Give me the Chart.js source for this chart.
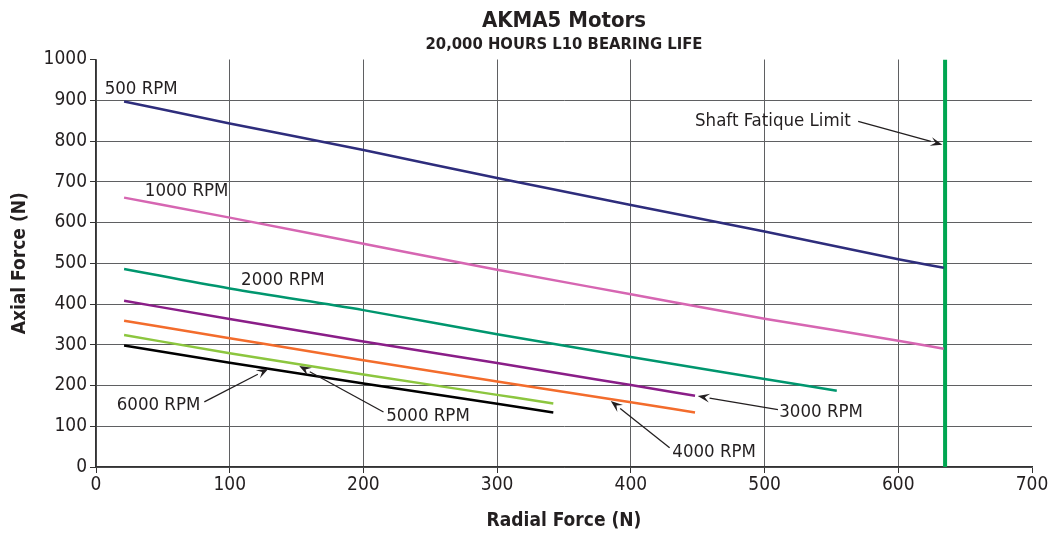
<!DOCTYPE html>
<html>
<head>
<meta charset="utf-8">
<script src="https://cdn.jsdelivr.net/npm/chart.js@4"></script>
<style>
html,body{margin:0;padding:0;background:#fff;}
#wrap{width:1048px;height:536px;}
</style>
</head>
<body>
<div id="wrap"><canvas id="c" width="1048" height="536"></canvas></div>
<script>
// ---- data ----
const xTicks = [0, 100, 200, 300, 400, 500, 600, 700];
const yTicks = [0, 100, 200, 300, 400, 500, 600, 700, 800, 900, 1000];

const radial500  = [21, 100, 200, 300, 400, 500, 600, 634];
const axial500   = [897, 843, 778, 709, 643, 578, 510, 489];
const radial1000 = [21, 100, 200, 300, 400, 500, 600, 634];
const axial1000  = [661, 612, 548, 484, 424, 364, 310, 290];
const radial2000 = [21, 100, 200, 300, 400, 500, 554];
const axial2000  = [486, 438, 385, 326, 270, 216, 187];
const radial3000 = [21, 100, 200, 300, 400, 448];
const axial3000  = [408, 363, 308, 255, 201, 175];
const radial4000 = [21, 100, 200, 300, 400, 448];
const axial4000  = [359, 316, 262, 210, 159, 134];
const radial5000 = [21, 100, 200, 300, 342];
const axial5000  = [324, 279, 227, 177, 156];
const radial6000 = [21, 100, 200, 300, 342];
const axial6000  = [298, 256, 205, 155, 134];
const shaftRadial = [635, 635];
const shaftAxial  = [0, 1000];

const seriesNames = ['500 RPM','1000 RPM','2000 RPM','3000 RPM','4000 RPM','5000 RPM','6000 RPM','Shaft Fatique Limit'];

// ---- styling ----
const FONT = "'Liberation Sans Narrow', 'DejaVu Sans Condensed', 'Liberation Sans', sans-serif";
const TEXT = '#231f20';
const colors = ['#2e2d7c', '#d666b2', '#00966e', '#8a1e88', '#f36c2c', '#8cc63f', '#000000', '#00a651'];

function pts(xs, ys) { return xs.map((x, i) => ({x: x, y: ys[i]})); }
const seriesData = [
  pts(radial500, axial500), pts(radial1000, axial1000), pts(radial2000, axial2000),
  pts(radial3000, axial3000), pts(radial4000, axial4000), pts(radial5000, axial5000),
  pts(radial6000, axial6000), pts(shaftRadial, shaftAxial)
];

const datasets = seriesData.map((d, i) => ({
  label: seriesNames[i],
  data: d,
  borderColor: colors[i],
  backgroundColor: colors[i],
  borderWidth: i === 7 ? 4 : 2.5,
  pointRadius: 0,
  tension: i === 7 ? 0 : 0.3,
  cubicInterpolationMode: i === 7 ? 'default' : 'monotone',
  fill: false
}));

// annotation labels (data coordinates), with optional arrows
const notes = [
  {text: '500 RPM',  x: 6.5,  y: 926, align: 'left'},
  {text: '1000 RPM', x: 36.5, y: 676, align: 'left'},
  {text: '2000 RPM', x: 108.5, y: 459, align: 'left'},
  {text: '3000 RPM', x: 511, y: 135, align: 'left', from: [510, 141], to: [450, 174]},
  {text: '4000 RPM', x: 431, y: 37,  align: 'left', from: [429, 47],  to: [385, 162]},
  {text: '5000 RPM', x: 217, y: 125, align: 'left', from: [215, 135], to: [152, 248]},
  {text: '6000 RPM', x: 78,  y: 152, align: 'right', from: [81, 160], to: [129, 241]},
  {text: 'Shaft Fatique Limit', x: 448, y: 848, align: 'left', from: [570, 848], to: [633, 791]}
];

const notePlugin = {
  id: 'notes',
  afterDatasetsDraw(chart) {
    const ctx = chart.ctx, xs = chart.scales.x, ys = chart.scales.y;
    ctx.save();
    ctx.font = '18.5px ' + FONT;
    ctx.fillStyle = TEXT;
    ctx.strokeStyle = TEXT;
    ctx.textBaseline = 'middle';
    notes.forEach(n => {
      ctx.textAlign = n.align;
      ctx.fillText(n.text, xs.getPixelForValue(n.x), ys.getPixelForValue(n.y));
      if (n.from) {
        const x1 = xs.getPixelForValue(n.from[0]), y1 = ys.getPixelForValue(n.from[1]);
        const x2 = xs.getPixelForValue(n.to[0]),   y2 = ys.getPixelForValue(n.to[1]);
        const ang = Math.atan2(y2 - y1, x2 - x1);
        const L = 12, W = 4.5;
        const bx = x2 - L * Math.cos(ang), by = y2 - L * Math.sin(ang);
        ctx.lineWidth = 1.3;
        ctx.beginPath(); ctx.moveTo(x1, y1); ctx.lineTo(bx, by); ctx.stroke();
        ctx.beginPath();
        ctx.moveTo(x2, y2);
        ctx.lineTo(bx + W * Math.sin(ang), by - W * Math.cos(ang));
        ctx.lineTo(x2 - 0.6 * L * Math.cos(ang), y2 - 0.6 * L * Math.sin(ang));
        ctx.lineTo(bx - W * Math.sin(ang), by + W * Math.cos(ang));
        ctx.closePath(); ctx.fill();
      }
    });
    ctx.restore();
  }
};

new Chart(document.getElementById('c'), {
  type: 'line',
  data: {datasets: datasets},
  plugins: [notePlugin],
  options: {
    responsive: false,
    animation: false,
    layout: {padding: {top: 0, left: 0, right: 16, bottom: 0}},
    plugins: {
      legend: {display: false},
      tooltip: {enabled: false},
      title: {
        display: true, text: 'AKMA5 Motors', fullSize: false,
        color: TEXT, font: {family: FONT, size: 22, weight: 'bold', lineHeight: 1},
        padding: {top: 10, bottom: 4}
      },
      subtitle: {
        display: true, text: '20,000 HOURS L10 BEARING LIFE', fullSize: false,
        color: TEXT, font: {family: FONT, size: 16.5, weight: 'bold', lineHeight: 1},
        padding: {top: 0, bottom: 7}
      }
    },
    scales: {
      x: {
        type: 'linear', min: 0, max: 700,
        afterBuildTicks(s) { s.ticks = xTicks.map(v => ({value: v})); },
        afterFit(s) { s.height = 69; s.paddingRight = 0; s.paddingLeft = 0; },
        ticks: {color: TEXT, font: {family: FONT, size: 19}, padding: 1, maxRotation: 0,
          callback: v => String(v)},
        grid: {
          color: c => (c.tick && c.tick.value === 700) ? 'rgba(0,0,0,0)' : '#5f6062',
          tickColor: '#333', tickLength: 6, lineWidth: 1
        },
        border: {color: '#333', width: 1.5},
        title: {display: true, text: 'Radial Force (N)', color: TEXT,
          font: {family: FONT, size: 19, weight: 'bold'}, padding: {top: 0, bottom: 4}}
      },
      y: {
        type: 'linear', min: 0, max: 1000,
        afterBuildTicks(s) { s.ticks = yTicks.map(v => ({value: v})); },
        afterFit(s) { s.width = 96; },
        ticks: {color: TEXT, font: {family: FONT, size: 19}, padding: 3,
          callback: v => String(v)},
        grid: {
          color: c => (c.tick && c.tick.value === 1000) ? 'rgba(0,0,0,0)' : '#5f6062',
          tickColor: '#333', tickLength: 6, lineWidth: 1
        },
        border: {color: '#333', width: 1.5},
        title: {display: true, text: 'Axial Force (N)', color: TEXT,
          font: {family: FONT, size: 19, weight: 'bold'}, padding: {top: 9, bottom: 0}}
      }
    }
  }
});
</script>
</body>
</html>
